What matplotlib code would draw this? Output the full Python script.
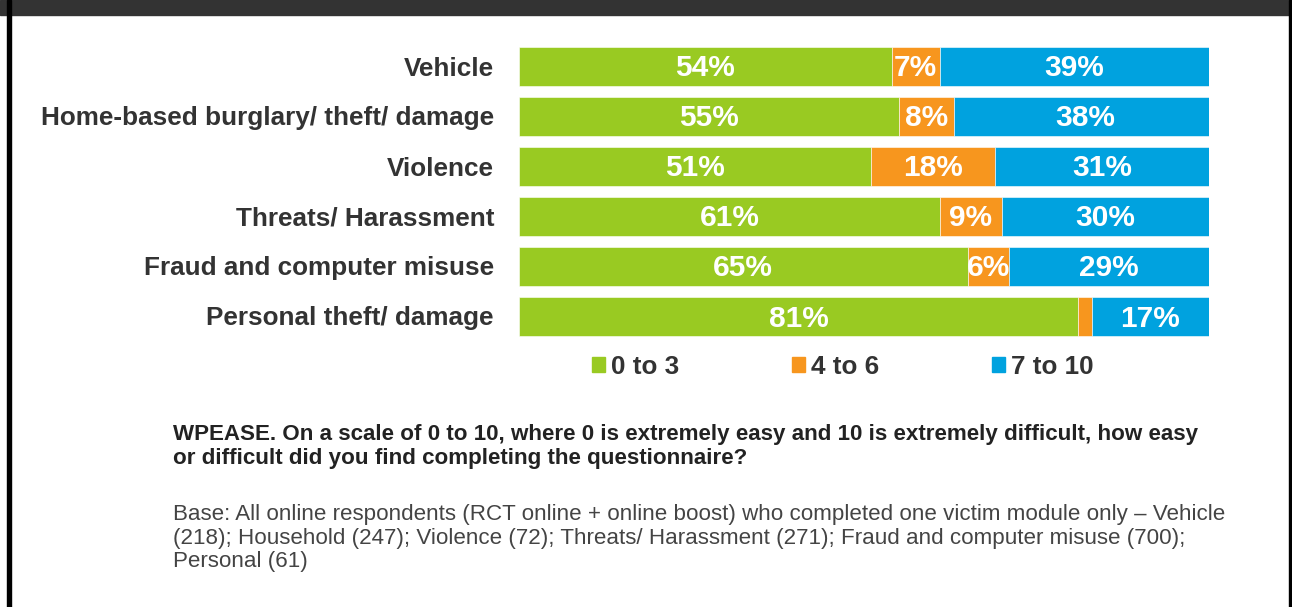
import matplotlib.pyplot as plt
import numpy as np
from matplotlib.patches import Patch, Rectangle

plt.rcParams['font.family'] = ['Liberation Sans', 'DejaVu Sans']

# Ease-of-completion scores by victim module
categories = ["Vehicle", "Home-based burglary/ theft/ damage", "Violence",
              "Threats/ Harassment", "Fraud and computer misuse", "Personal theft/ damage"]
easy = [54, 55, 51, 61, 65, 81]        # 0 to 3
middle = [7, 8, 18, 9, 6, 2]           # 4 to 6
hard = [39, 38, 31, 30, 29, 17]        # 7 to 10
series_names = ["0 to 3", "4 to 6", "7 to 10"]
colors = ["#99CA22", "#F7961E", "#00A2DF"]
show_label = [[True] * 6, [True, True, True, True, True, False], [True] * 6]

W, H = 1292, 607
fig = plt.figure(figsize=(W / 100, H / 100), dpi=100)

# frame around the slide
fig.patches.append(Rectangle((0, 1 - 15 / H), 1, 15 / H, transform=fig.transFigure,
                             color="#333333", zorder=0))
fig.patches.append(Rectangle((7 / W, 0), 4 / W, 1, transform=fig.transFigure,
                             color="black", zorder=0))
fig.patches.append(Rectangle((1289 / W, 0), 3 / W, 1, transform=fig.transFigure,
                             color="black", zorder=0))

ax = fig.add_axes([519 / W, 1 - 341 / H, 690 / W, 300 / H])
y = np.arange(len(categories))
left = np.zeros(len(categories))
for vals, col, name, shows in zip([easy, middle, hard], colors, series_names, show_label):
    vals = np.array(vals, dtype=float)
    ax.barh(y, vals, left=left, height=0.78, color=col, edgecolor="white",
            linewidth=0.4, label=name)
    for yi, l, v, s in zip(y, left, vals, shows):
        if s:
            # baseline placed so the digits sit centred in the bar
            ax.text(l + v / 2, yi + 0.21, f"{int(v)}%", ha="center", va="baseline",
                    color="white", fontsize=21.5, fontweight="bold")
    left += vals

ax.set_xlim(0, 100)
ax.set_ylim(len(categories) - 0.5, -0.5)
ax.set_yticks(y)
ax.set_yticklabels(categories, fontsize=18.8, fontweight="bold", color="#333333")
ax.tick_params(axis="y", length=0, pad=18)
ax.set_xticks([])
for s in ax.spines.values():
    s.set_visible(False)

handles = [Patch(color=c, label=n) for c, n in zip(colors, series_names)]
leg = fig.legend(handles=handles, loc="center", bbox_to_anchor=(843 / W, 1 - 367 / H),
                 ncol=3, frameon=False, fontsize=18.8, handlelength=0.5, handleheight=0.5,
                 handletextpad=0.24, columnspacing=4.3, borderpad=0)
for t in leg.get_texts():
    t.set_fontweight("bold")
    t.set_color("#333333")

question = ("WPEASE. On a scale of 0 to 10, where 0 is extremely easy and 10 is extremely difficult, how easy\n"
            "or difficult did you find completing the questionnaire?")
base = ("Base: All online respondents (RCT online + online boost) who completed one victim module only \u2013 Vehicle\n"
        "(218); Household (247); Violence (72); Threats/ Harassment (271); Fraud and computer misuse (700);\n"
        "Personal (61)")
fig.text(173 / W, 1 - 424 / H, question, ha="left", va="top", fontsize=16.1,
         fontweight="bold", color="#222222", linespacing=1.2)
fig.text(173 / W, 1 - 504 / H, base, ha="left", va="top", fontsize=16.1,
         color="#444444", linespacing=1.16)

fig.savefig("out.png", dpi=100, facecolor="white")
